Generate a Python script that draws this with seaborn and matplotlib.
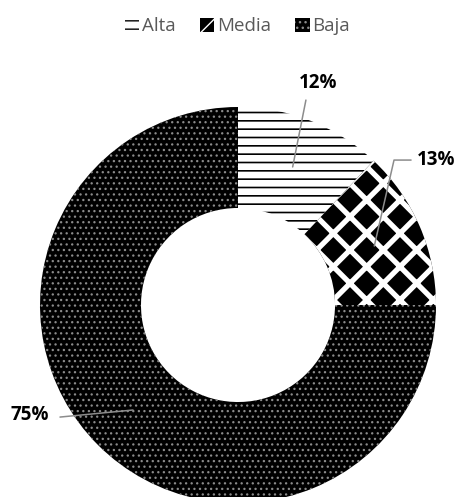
import matplotlib.pyplot as plt
import numpy as np
import seaborn as sns
from matplotlib.patches import Patch

categories = ["Alta", "Media", "Baja"]
values = [12, 13, 75]
labels = ["12%", "13%", "75%"]

FACES = ["white", "black", "black"]
EDGES = ["black", "white", "#8a8a8a"]
HATCHES = ["--", "x", "..."]
HATCH_LW = [1.2, 3.8, 0.9]

sns.set_theme(style="white")
plt.rcParams["font.family"] = ["Open Sans", "DejaVu Sans"]


def style_patch(p, fc, ec, h, hlw):
    p.set_facecolor(fc)
    p.set_edgecolor(ec)
    p.set_hatch(h)
    p.set_linewidth(0)
    if hasattr(p, "set_hatch_linewidth"):
        p.set_hatch_linewidth(hlw)


fig = plt.figure(figsize=(4.57, 4.97), dpi=100)
# pie centre ~ (238, 305) px, outer radius ~198 px
ax = fig.add_axes([(238 - 198) / 457, (192 - 198) / 497, 396 / 457, 396 / 497])

wedges, _ = ax.pie(values, startangle=90, counterclock=False, radius=1.0,
                   wedgeprops=dict(width=0.51, linewidth=0))
for w, fc, ec, h, hlw in zip(wedges, FACES, EDGES, HATCHES, HATCH_LW):
    style_patch(w, fc, ec, h, hlw)

ax.set_xlim(-1, 1)
ax.set_ylim(-1, 1)
ax.set_aspect("equal")
ax.axis("off")

# leader lines from middle of ring to label text
mids = []
start = 90.0
for v in values:
    sweep = v / sum(values) * 360
    mids.append(np.deg2rad(start - sweep / 2))
    start -= sweep

text_pos = [(0.404, 1.121), (1.0, 0.732), (-1.05, -0.556)]
elbows = [[(0.343, 1.035)], [(0.874, 0.732), (0.788, 0.732)], [(-0.899, -0.566)]]
for lab, m, tp, el in zip(labels, mids, text_pos, elbows):
    p = (0.75 * np.cos(m), 0.75 * np.sin(m))
    xs, ys = zip(*(el + [p]))
    ax.plot(xs, ys, color="#8c8c8c", lw=1.1, clip_on=False)
    ax.text(tp[0], tp[1], lab, ha="center", va="center", fontsize=13.5,
            fontweight="bold", color="black", clip_on=False)

handles = []
for fc, ec, h, hlw in zip(FACES, EDGES, HATCHES, HATCH_LW):
    hp = Patch()
    style_patch(hp, fc, ec, h, hlw * 0.6)
    handles.append(hp)
fig.legend(handles, categories, loc="center", bbox_to_anchor=(0.52, 0.947),
           ncol=3, frameon=False, fontsize=13.5, handlelength=0.75,
           handleheight=0.75, handletextpad=0.15, columnspacing=1.3,
           labelcolor="#595959")

fig.savefig("out.png", dpi=100)
